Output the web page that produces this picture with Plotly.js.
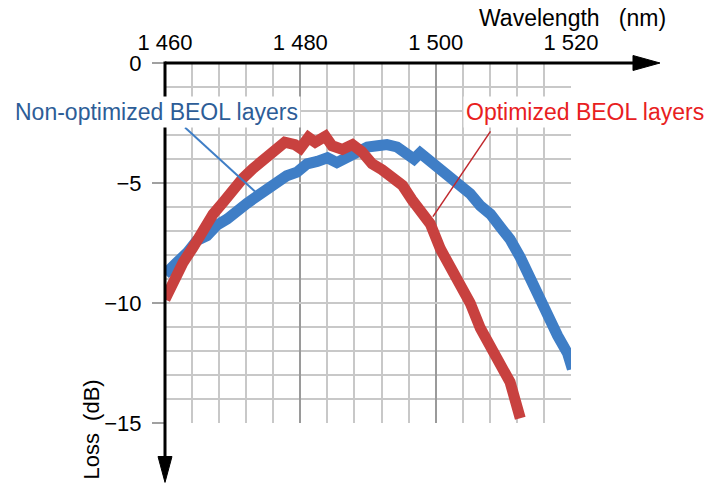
<!DOCTYPE html>
<html>
<head>
<meta charset="utf-8">
<script src="https://cdn.plot.ly/plotly-3.0.1.min.js"></script>
<style>html,body{margin:0;padding:0;background:#fff;}#chart{width:708px;height:486px;}</style>
</head>
<body>
<div id="chart"></div>
<script>
// Non-optimized BEOL layers (blue)
const wavelengthBlue = [1460.0,1460.3,1461.8,1463.3,1464.7,1466.2,1467.7,1469.2,1470.7,1472.1,1473.6,1474.8,1476.6,1478.0,1479.5,1481.0,1482.5,1484.0,1485.4,1486.9,1488.4,1489.9,1491.4,1492.8,1494.3,1495.8,1496.8,1497.7,1499.2,1500.7,1502.2,1503.6,1505.1,1506.6,1508.1,1509.6,1511.0,1512.5,1513.6,1515.0,1516.5,1518.0,1519.5,1520.2];
const lossBlue = [-8.8,-8.7,-8.3,-7.9,-7.4,-7.2,-6.75,-6.5,-6.1,-5.85,-5.55,-5.3,-4.95,-4.7,-4.55,-4.2,-4.1,-3.95,-4.15,-3.9,-3.75,-3.5,-3.45,-3.4,-3.5,-3.75,-4.0,-3.75,-4.1,-4.5,-4.85,-5.1,-5.45,-5.95,-6.3,-6.85,-7.35,-8.1,-8.8,-9.65,-10.45,-11.35,-12.1,-12.75];
// Optimized BEOL layers (red)
const wavelengthRed = [1460.0,1461.2,1462.7,1464.1,1465.6,1467.1,1468.6,1470.1,1471.5,1473.0,1474.5,1476.0,1477.7,1479.2,1480.0,1481.2,1482.2,1483.7,1484.7,1486.2,1487.7,1489.1,1490.6,1492.1,1493.6,1495.1,1496.5,1497.7,1499.2,1500.7,1502.2,1503.6,1505.1,1506.6,1508.1,1509.6,1511.0,1512.5];
const lossRed = [-9.85,-9.1,-8.3,-7.7,-6.9,-6.3,-5.8,-5.2,-4.8,-4.4,-4.05,-3.7,-3.3,-3.4,-3.55,-3.1,-3.3,-3.05,-3.45,-3.6,-3.4,-3.7,-4.2,-4.45,-4.8,-5.1,-5.7,-6.1,-6.7,-7.75,-8.5,-9.2,-10.0,-11.05,-11.9,-12.6,-13.3,-14.8];

const xTickVals = [1460,1480,1500,1520];
const xTickText = ['1 460','1 480','1 500','1 520'];
const yTickVals = [0,-5,-10,-15];
const yTickText = ['0','\u22125','\u221210','\u221215'];

const FONT = 'Liberation Sans, Arial, Helvetica, sans-serif';
const BLUE = '#3f7ec6';
const RED = '#c8413f';

const traces = [
  {x: wavelengthBlue, y: lossBlue, type:'scatter', mode:'lines', line:{color:BLUE, width:11}, hoverinfo:'skip', showlegend:false},
  {x: wavelengthRed, y: lossRed, type:'scatter', mode:'lines', line:{color:RED, width:11}, hoverinfo:'skip', showlegend:false}
];

const layout = {
  width:708, height:486,
  margin:{l:165, r:137, t:63, b:63},
  paper_bgcolor:'#fff', plot_bgcolor:'#fff',
  font:{family:FONT, size:22, color:'#000'},
  showlegend:false,
  xaxis:{
    range:[1460,1520], side:'top', tickmode:'array', tickvals:xTickVals, ticktext:xTickText,
    showgrid:true, gridcolor:'#9a9a9a', gridwidth:2,
    minor:{tick0:1460, dtick:4, showgrid:true, gridcolor:'#c8c8c8', gridwidth:2, ticks:''},
    ticks:'', showline:false, zeroline:false, ticklabelstandoff:8,
    tickfont:{family:FONT, size:22, color:'#000'}
  },
  yaxis:{
    range:[-15,0], tickmode:'array', tickvals:yTickVals, ticktext:yTickText,
    showgrid:true, gridcolor:'#c8c8c8', gridwidth:2,
    minor:{tick0:0, dtick:1, showgrid:true, gridcolor:'#c8c8c8', gridwidth:2, ticks:''},
    ticks:'outside', ticklen:12, tickwidth:2, tickcolor:'#a0a0a0',
    showline:false, zeroline:false, ticklabelstandoff:6,
    tickfont:{family:FONT, size:22, color:'#000'}
  },
  shapes:[
    // leader lines
    {type:'line', xref:'x', yref:'y', x0:1462.96, y0:-2.69, x1:1473.3, y1:-5.35, line:{color:BLUE, width:2}},
    {type:'line', xref:'x', yref:'y', x0:1508.1, y0:-2.85, x1:1499.6, y1:-6.4, line:{color:'#c0282d', width:1.5}},
    // x axis with arrow
    {type:'line', xref:'paper', yref:'paper', x0:0, x1:1.155, y0:1, y1:1, line:{color:'#000', width:3}},
    {type:'path', xref:'paper', yref:'paper', path:'M 1.1527 1.0208 L 1.2192 1 L 1.1527 0.9792 Z', fillcolor:'#000', line:{color:'#000', width:1}},
    // y axis with arrow
    {type:'line', xref:'paper', yref:'paper', x0:0, x1:0, y0:1.004, y1:-0.095, line:{color:'#000', width:3}},
    {type:'path', xref:'paper', yref:'paper', path:'M -0.0172 -0.0931 L 0 -0.165 L 0.0172 -0.0931 Z', fillcolor:'#000', line:{color:'#000', width:1}}
  ],
  annotations:[
    {xref:'paper', yref:'paper', x:-0.377, y:0.8625, xanchor:'left', yanchor:'middle', showarrow:false,
     text:'Non-optimized BEOL layers', font:{family:FONT, size:23, color:'#2d5d97'}, bgcolor:'#fff', borderpad:2},
    {xref:'paper', yref:'paper', x:0.734, y:0.8625, xanchor:'left', yanchor:'middle', showarrow:false,
     text:'Optimized BEOL layers', font:{family:FONT, size:23, color:'#e8201e'}, bgcolor:'#fff', borderpad:2},
    {xref:'paper', yref:'paper', x:0.768, y:1.125, xanchor:'left', yanchor:'middle', showarrow:false,
     text:'Wavelength\u00a0\u00a0\u00a0(nm)', font:{family:FONT, size:23, color:'#000'}},
    {xref:'paper', yref:'paper', x:-0.182, y:-0.018, xanchor:'center', yanchor:'middle', showarrow:false, textangle:-90,
     text:'Loss\u00a0\u00a0(dB)', font:{family:FONT, size:22, color:'#000'}}
  ]
};

Plotly.newPlot('chart', traces, layout, {staticPlot:true, displayModeBar:false});
</script>
</body>
</html>
